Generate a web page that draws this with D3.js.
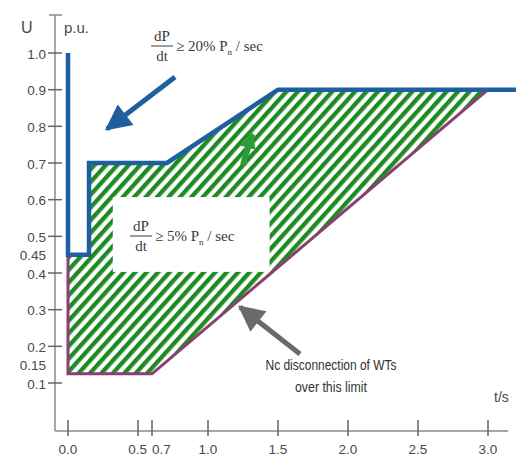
<!DOCTYPE html>
<html>
<head>
<meta charset="utf-8">
<script src="https://cdn.jsdelivr.net/npm/d3@7"></script>
<style>
  body { margin: 0; background: #fff; }
  svg { display: block; }
</style>
</head>
<body>
<div id="chart"></div>
<script>
// 数据
const blueT = [0, 0, 0.15, 0.15, 0.78, 1.5, 3.2];
const blueU = [1.0, 0.45, 0.45, 0.7, 0.7, 0.9, 0.9];
const purpleT = [0, 0, 0.7, 3.0];
const purpleU = [0.45, 0.125, 0.125, 0.9];
const xTicks = [0.0, 0.5, 0.7, 1.0, 1.5, 2.0, 2.5, 3.0];
const xTickLabels = ["0.0", "0.5", "0.7", "1.0", "1.5", "2.0", "2.5", "3.0"];
const yTicks = [0.1, 0.2, 0.3, 0.4, 0.5, 0.6, 0.7, 0.8, 0.9, 1.0];
const yExtraLabels = [0.45, 0.15];

const width = 516, height = 457;
const axisX = 55, axisY = 431;

// 比例尺（原图 0.5–1.0 之间不是等距的）
const x = d3.scaleLinear()
    .domain([0, 0.5, 0.7, 1.0, 3.0])
    .range([68, 138, 152, 208, 488]);
const y = d3.scaleLinear()
    .domain([0.1, 1.0])
    .range([383, 53]);

const svg = d3.select("#chart").append("svg")
    .attr("width", width)
    .attr("height", height);

// 斜线填充
const defs = svg.append("defs");
defs.append("pattern")
    .attr("id", "hatch")
    .attr("patternUnits", "userSpaceOnUse")
    .attr("width", 8.5)
    .attr("height", 8.5)
    .attr("patternTransform", "rotate(42)")
    .append("rect")
    .attr("width", 4.3)
    .attr("height", 8.5)
    .attr("fill", "#1d8a22");

function arrowMarker(id, color) {
    defs.append("marker")
        .attr("id", id)
        .attr("viewBox", "0 0 10 10")
        .attr("refX", 9)
        .attr("refY", 5)
        .attr("markerUnits", "userSpaceOnUse")
        .attr("markerWidth", 28)
        .attr("markerHeight", 26)
        .attr("orient", "auto")
        .append("path")
        .attr("d", "M0,0 L10,5 L0,10 Z")
        .attr("fill", color);
}
arrowMarker("arrow-blue", "#1f5f9f");
arrowMarker("arrow-grey", "#6a6a6a");

const bluePts = blueT.map((t, i) => [t, blueU[i]]);
const purplePts = purpleT.map((t, i) => [t, purpleU[i]]);

const line = d3.line().x(d => x(d[0])).y(d => y(d[1]));

// 阴影区域：蓝线（上）与紫线（下）之间
const area = bluePts.slice(1, 6).concat(purplePts.slice().reverse());
svg.append("path")
    .attr("d", line(area) + "Z")
    .attr("fill", "url(#hatch)");

// 坐标轴
const axisColor = "#8a8a8a";
svg.append("line")
    .attr("x1", axisX).attr("x2", axisX)
    .attr("y1", 15).attr("y2", axisY)
    .attr("stroke", axisColor).attr("stroke-width", 1.5);
svg.append("line")
    .attr("x1", 49).attr("x2", 62)
    .attr("y1", 15).attr("y2", 15)
    .attr("stroke", axisColor).attr("stroke-width", 1.5);
svg.append("line")
    .attr("x1", axisX).attr("x2", 508)
    .attr("y1", axisY).attr("y2", axisY)
    .attr("stroke", axisColor).attr("stroke-width", 1.5);

// Y 刻度
svg.selectAll("line.ytick")
    .data(yTicks)
    .enter()
    .append("line")
    .attr("class", "ytick")
    .attr("x1", 48).attr("x2", 62)
    .attr("y1", d => y(d)).attr("y2", d => y(d))
    .attr("stroke", "#666").attr("stroke-width", 1.5);

const tickFont = "Liberation Sans, Arial, sans-serif";
svg.selectAll("text.ylab")
    .data(yTicks.concat(yExtraLabels))
    .enter()
    .append("text")
    .attr("class", "ylab")
    .attr("x", 46)
    .attr("y", d => y(d) + 2)
    .attr("text-anchor", "end")
    .attr("dominant-baseline", "middle")
    .attr("font-family", tickFont)
    .attr("font-size", "13.5px")
    .attr("fill", "#4a4a4a")
    .text(d => d === 1.0 ? "1.0" : String(d));

// X 刻度
svg.selectAll("line.xtick")
    .data(xTicks)
    .enter()
    .append("line")
    .attr("class", "xtick")
    .attr("x1", d => x(d)).attr("x2", d => x(d))
    .attr("y1", axisY - 11).attr("y2", axisY + 5)
    .attr("stroke", "#666").attr("stroke-width", 1.5);

svg.selectAll("text.xlab")
    .data(xTicks)
    .enter()
    .append("text")
    .attr("class", "xlab")
    .attr("x", d => x(d) + (d === 0.5 ? 9 : 0))
    .attr("y", axisY + 19)
    .attr("text-anchor", d => d === 0.5 ? "end" : (d === 0.7 ? "start" : "middle"))
    .attr("dominant-baseline", "middle")
    .attr("font-family", tickFont)
    .attr("font-size", "13.5px")
    .attr("fill", "#4a4a4a")
    .text((d, i) => xTickLabels[i]);

// 轴标签
svg.append("text").attr("x", 21).attr("y", 33)
    .attr("font-family", tickFont).attr("font-size", "16px").attr("fill", "#4a4a4a").text("U");
svg.append("text").attr("x", 64).attr("y", 33)
    .attr("font-family", tickFont).attr("font-size", "15px").attr("fill", "#4a4a4a").text("p.u.");
svg.append("text").attr("x", 494).attr("y", 402)
    .attr("font-family", tickFont).attr("font-size", "14px").attr("fill", "#4a4a4a").text("t/s");

// 紫线（下限）
svg.append("path")
    .attr("d", line(purplePts))
    .attr("fill", "none")
    .attr("stroke", "#8a3f72")
    .attr("stroke-width", 3)
    .attr("stroke-linejoin", "miter");

// 蓝线（上限）
svg.append("path")
    .attr("d", line(bluePts))
    .attr("fill", "none")
    .attr("stroke", "#1f5f9f")
    .attr("stroke-width", 4.5)
    .attr("stroke-linejoin", "miter");

// 白色文本框
const boxT0 = 0.32, boxT1 = 1.44, boxU0 = 0.607, boxU1 = 0.403;
svg.append("rect")
    .attr("x", x(boxT0))
    .attr("y", y(boxU0))
    .attr("width", x(boxT1) - x(boxT0))
    .attr("height", y(boxU1) - y(boxU0))
    .attr("fill", "#fff");

// 公式
const serif = "Liberation Serif, Times New Roman, serif";
function formula(cx, cy, rest) {
    const g = svg.append("g").attr("fill", "#3a3a3a").attr("font-family", serif);
    g.append("text").attr("x", cx).attr("y", cy - 5)
        .attr("text-anchor", "middle").attr("font-size", "15px").text("dP");
    g.append("line").attr("x1", cx - 11).attr("x2", cx + 11)
        .attr("y1", cy).attr("y2", cy)
        .attr("stroke", "#3a3a3a").attr("stroke-width", 1);
    g.append("text").attr("x", cx).attr("y", cy + 15)
        .attr("text-anchor", "middle").attr("font-size", "15px").text("dt");
    const t = g.append("text").attr("x", cx + 14).attr("y", cy + 5)
        .attr("font-size", "15px");
    t.append("tspan").text("≥ " + rest + " P");
    t.append("tspan").attr("font-size", "9px").attr("dy", 4).text("n");
    t.append("tspan").attr("dy", -4).text(" / sec");
}
formula(162, 46, "20%");
formula(141, 236, "5%");

// 箭头
svg.append("line")
    .attr("x1", 175).attr("y1", 77)
    .attr("x2", 107).attr("y2", 129)
    .attr("stroke", "#1f5f9f").attr("stroke-width", 5)
    .attr("marker-end", "url(#arrow-blue)");
svg.append("line")
    .attr("x1", 300).attr("y1", 354)
    .attr("x2", 240).attr("y2", 307)
    .attr("stroke", "#6a6a6a").attr("stroke-width", 5)
    .attr("marker-end", "url(#arrow-grey)");

// 绿色小箭头
defs.append("marker")
    .attr("id", "arrow-green")
    .attr("viewBox", "0 0 10 10")
    .attr("refX", 9).attr("refY", 5)
    .attr("markerUnits", "userSpaceOnUse")
    .attr("markerWidth", 16).attr("markerHeight", 18)
    .attr("orient", "auto")
    .append("path").attr("d", "M0,0 L10,5 L0,10 Z").attr("fill", "#2f9a3a");
svg.append("line")
    .attr("x1", 243).attr("y1", 165)
    .attr("x2", 252).attr("y2", 134)
    .attr("stroke", "#2f9a3a").attr("stroke-width", 6)
    .attr("marker-end", "url(#arrow-green)");

// 说明文字（原图为窄体字）
svg.append("text").attr("x", 331).attr("y", 370)
    .attr("text-anchor", "middle")
    .attr("font-family", tickFont).attr("font-size", "14.5px").attr("fill", "#333")
    .attr("textLength", 131).attr("lengthAdjust", "spacingAndGlyphs")
    .text("Nc disconnection of WTs");
svg.append("text").attr("x", 331).attr("y", 392)
    .attr("text-anchor", "middle")
    .attr("font-family", tickFont).attr("font-size", "14.5px").attr("fill", "#333")
    .attr("textLength", 72).attr("lengthAdjust", "spacingAndGlyphs")
    .text("over this limit");
</script>
</body>
</html>
